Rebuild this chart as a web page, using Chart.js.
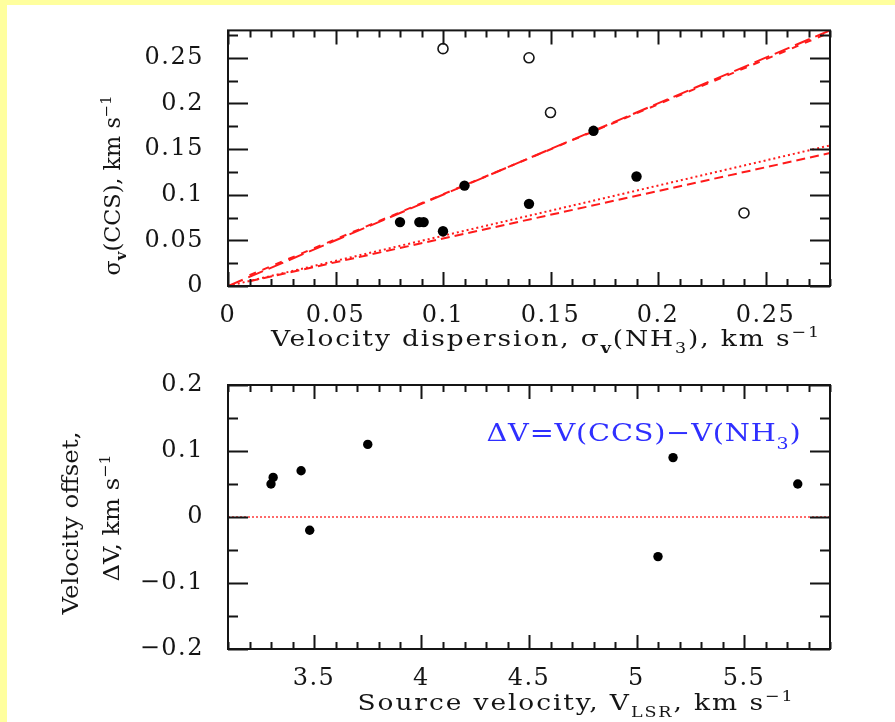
<!DOCTYPE html>
<html>
<head>
<meta charset="utf-8">
<script src="https://cdn.jsdelivr.net/npm/chart.js@4.4.1/dist/chart.umd.min.js"></script>
<style>
  html, body { margin: 0; padding: 0; background: #ffff9e; width: 895px; height: 722px; overflow: hidden; }
  #sheet { position: absolute; left: 7px; top: 5px; width: 888px; height: 717px; background: #ffffff; }
  canvas { position: absolute; left: 0; top: 0; }
</style>
</head>
<body>
<div id="sheet"></div>
<canvas id="dispersion" width="895" height="722"></canvas>
<canvas id="offset" width="895" height="722"></canvas>
<script>
// ---- Upper panel: CCS vs NH3 velocity dispersion (km/s) ----
const sigmaNH3Filled = [0.08, 0.089, 0.091, 0.10, 0.11, 0.14, 0.17, 0.19];
const sigmaCCSFilled = [0.07, 0.07, 0.07, 0.06, 0.11, 0.09, 0.17, 0.12];
const sigmaNH3Open = [0.10, 0.14, 0.15, 0.24];
const sigmaCCSOpen = [0.26, 0.25, 0.19, 0.08];
// reference lines as [x0, y0, x1, y1]
const lineEqual    = [0, 0, 0.28, 0.28];
const lineFitUpper = [0.01, 0.0118, 0.28, 0.2778];
const lineFitLower = [0.01, 0.0052, 0.28, 0.1456];
const lineDotted   = [0, 0, 0.28, 0.154];
const sigmaTicks = [0, 0.05, 0.1, 0.15, 0.2, 0.25];

// ---- Lower panel: velocity offset vs source velocity (km/s) ----
const vlsr   = [3.30, 3.31, 3.44, 3.48, 3.75, 5.10, 5.17, 5.75];
const deltaV = [0.05, 0.06, 0.07, -0.02, 0.11, -0.06, 0.09, 0.05];
const zeroLine = [3.1, 0, 5.9, 0];
const vlsrTicks   = [3.5, 4, 4.5, 5, 5.5];
const deltaVTicks = [-0.2, -0.1, 0, 0.1, 0.2];

const FONT = "'DejaVu Serif', 'Liberation Serif', serif";
const INK = '#151515';
const RED = '#ff1a1a';
const BLUE = '#2f2fff';
const TICK_FONT_SIZE = 24;
const TICK_SPACING = '1.5px';

const pts = (xs, ys) => xs.map((x, i) => ({ x, y: ys[i] }));
const seg = l => [{ x: l[0], y: l[1] }, { x: l[2], y: l[3] }];
const label = v => String(v).replace('-', '\u2212');

// draw a run of text pieces (with sub/superscripts) centred on (x, y);
// wide lettering: glyphs are stretched a little, then spaced out to the given width
function drawRich(ctx, runs, o) {
  ctx.save();
  const size = o.size;
  let natural = 0, count = 0;
  const items = runs.map(r => {
    const s = (r.sub || r.sup) ? size * 0.66 : size;
    const font = (r.bold ? 'bold ' : '') + s.toFixed(1) + 'px ' + FONT;
    ctx.font = font;
    ctx.letterSpacing = '0px';
    const w = ctx.measureText(r.t).width;
    const n = [...r.t].length;
    natural += w; count += n;
    return { ...r, font, w, n };
  });
  const stretch = o.width ? Math.max(1, Math.min(o.width / natural, o.maxStretch || 1.15)) : 1;
  const ls = o.width ? (o.width - natural * stretch) / count / stretch : 0;
  const total = (natural + ls * count) * stretch;
  ctx.translate(o.x, o.y);
  ctx.rotate(o.rot || 0);
  ctx.scale(stretch, 1);
  ctx.fillStyle = o.color || INK;
  ctx.textAlign = 'left';
  ctx.textBaseline = 'alphabetic';
  let x = -total / 2 / stretch;
  const base = size * 0.36;
  for (const it of items) {
    ctx.font = it.font;
    ctx.letterSpacing = ls.toFixed(2) + 'px';
    const dy = it.sub ? size * 0.3 : it.sup ? -size * 0.42 : 0;
    ctx.fillText(it.t, x, base + dy);
    x += it.w + ls * it.n;
  }
  ctx.restore();
}

// frame with inward ticks on all four sides
function drawFrame(chart, f) {
  const { ctx, chartArea: a } = chart;
  const sx = chart.scales.x, sy = chart.scales.y;
  ctx.save();
  ctx.strokeStyle = INK;
  ctx.lineWidth = 2;
  ctx.beginPath();
  const i0 = Math.ceil(sx.min / f.xStep - 1e-6), i1 = Math.floor(sx.max / f.xStep + 1e-6);
  for (let i = i0; i <= i1; i++) {
    const px = Math.round(sx.getPixelForValue(i * f.xStep)) + 0.5;
    const len = (i % f.xMajor === 0) ? 14 : 7;
    ctx.moveTo(px, a.bottom); ctx.lineTo(px, a.bottom - len);
    ctx.moveTo(px, a.top); ctx.lineTo(px, a.top + len);
  }
  const j0 = Math.ceil(sy.min / f.yStep - 1e-6), j1 = Math.floor(sy.max / f.yStep + 1e-6);
  for (let j = j0; j <= j1; j++) {
    const py = Math.round(sy.getPixelForValue(j * f.yStep)) + 0.5;
    const len = (j % f.yMajor === 0) ? 20 : 10;
    ctx.moveTo(a.left, py); ctx.lineTo(a.left + len, py);
    ctx.moveTo(a.right, py); ctx.lineTo(a.right - len, py);
  }
  ctx.stroke();
  ctx.strokeRect(a.left, a.top, a.right - a.left, a.bottom - a.top);
  ctx.restore();
}

const tickSpacing = {
  id: 'tickSpacing',
  beforeDraw(chart) { chart.ctx.letterSpacing = TICK_SPACING; },
  afterDraw(chart) { chart.ctx.letterSpacing = '0px'; }
};

const decorate = {
  id: 'decorate',
  afterDatasetsDraw(chart, args, opts) {
    chart.ctx.letterSpacing = '0px';
    drawFrame(chart, opts.frame);
    const a = chart.chartArea;
    for (const t of opts.texts) {
      drawRich(chart.ctx, t.runs, {
        x: a.left + t.dx, y: (t.fromBottom ? a.bottom : a.top) + t.dy,
        size: t.size, rot: t.rot, width: t.width, color: t.color, maxStretch: t.maxStretch
      });
    }
    chart.ctx.letterSpacing = TICK_SPACING;
  }
};

function axis(min, max, ticks, side, size) {
  return {
    type: 'linear', min, max,
    grid: { display: false },
    border: { display: false },
    afterBuildTicks: s => { s.ticks = ticks.map(v => ({ value: v })); },
    afterFit: s => { if (side === 'x') s.height = size; else s.width = size; },
    ticks: {
      autoSkip: false, maxRotation: 0,
      padding: side === 'x' ? 7 : 16,
      color: INK,
      font: { family: FONT, size: TICK_FONT_SIZE },
      callback: v => label(v)
    }
  };
}

function lineSet(l, dash, width) {
  return {
    data: seg(l), showLine: true, pointRadius: 0, borderColor: RED,
    borderWidth: width, borderDash: dash, fill: false
  };
}

const common = {
  responsive: false, animation: false, devicePixelRatio: 1, events: [],
  plugins: { legend: { display: false }, tooltip: { enabled: false } }
};

// Upper chart
new Chart(document.getElementById('dispersion'), {
  type: 'scatter',
  data: {
    datasets: [
      { data: pts(sigmaNH3Filled, sigmaCCSFilled), pointRadius: 5.2, pointBackgroundColor: '#000', pointBorderWidth: 0 },
      { data: pts(sigmaNH3Open, sigmaCCSOpen), pointRadius: 5, pointBackgroundColor: 'rgba(0,0,0,0)', pointBorderColor: INK, pointBorderWidth: 1.6 },
      lineSet(lineEqual, [16, 6], 2),
      lineSet(lineFitUpper, [7, 7], 2),
      lineSet(lineFitLower, [9, 5], 2),
      lineSet(lineDotted, [2, 3], 2)
    ]
  },
  options: {
    ...common,
    layout: { padding: { left: 0, top: 23, right: 65, bottom: 722 - 286 - 40 } },
    scales: {
      x: axis(0, 0.28, sigmaTicks, 'x', 40),
      y: axis(0, 0.28, sigmaTicks, 'y', 228)
    },
    plugins: {
      ...common.plugins,
      decorate: {
        frame: { xStep: 0.01, xMajor: 5, yStep: 0.025, yMajor: 2 },
        texts: [
          { runs: [{ t: 'Velocity dispersion, ' }, { t: '\u03c3' }, { t: 'v', sub: true, bold: true },
                   { t: '(NH' }, { t: '3', sub: true }, { t: '), km s' }, { t: '\u22121', sup: true }],
            dx: 318, dy: 52, fromBottom: true, size: 23, width: 550 },
          { runs: [{ t: '\u03c3' }, { t: 'v', sub: true, bold: true }, { t: '(CCS), km s' }, { t: '\u22121', sup: true }],
            dx: -116, dy: 155, size: 21.5, rot: -Math.PI / 2, width: 180 }
        ]
      }
    }
  },
  plugins: [tickSpacing, decorate]
});

// Lower chart
new Chart(document.getElementById('offset'), {
  type: 'scatter',
  data: {
    datasets: [
      { data: pts(vlsr, deltaV), pointRadius: 4.7, pointBackgroundColor: '#000', pointBorderWidth: 0 },
      lineSet(zeroLine, [2, 2], 1.3)
    ]
  },
  options: {
    ...common,
    layout: { padding: { left: 0, top: 385, right: 65, bottom: 722 - 649 - 40 } },
    scales: {
      x: axis(3.1, 5.9, vlsrTicks, 'x', 40),
      y: axis(-0.2, 0.2, deltaVTicks, 'y', 228)
    },
    plugins: {
      ...common.plugins,
      decorate: {
        frame: { xStep: 0.1, xMajor: 5, yStep: 0.05, yMajor: 2 },
        texts: [
          { runs: [{ t: 'Source velocity, V' }, { t: 'LSR', sub: true }, { t: ', km s' }, { t: '\u22121', sup: true }],
            dx: 348, dy: 53, fromBottom: true, size: 23, width: 437 },
          { runs: [{ t: 'Velocity offset,' }], dx: -158, dy: 138, size: 22, rot: -Math.PI / 2, width: 183 },
          { runs: [{ t: '\u0394V, km s' }, { t: '\u22121', sup: true }], dx: -117, dy: 133, size: 22, rot: -Math.PI / 2, width: 127 },
          { runs: [{ t: '\u0394V=V(CCS)\u2212V(NH' }, { t: '3', sub: true }, { t: ')' }],
            dx: 416, dy: 47, size: 25, width: 315, color: BLUE }
        ]
      }
    }
  },
  plugins: [tickSpacing, decorate]
});
</script>
</body>
</html>
